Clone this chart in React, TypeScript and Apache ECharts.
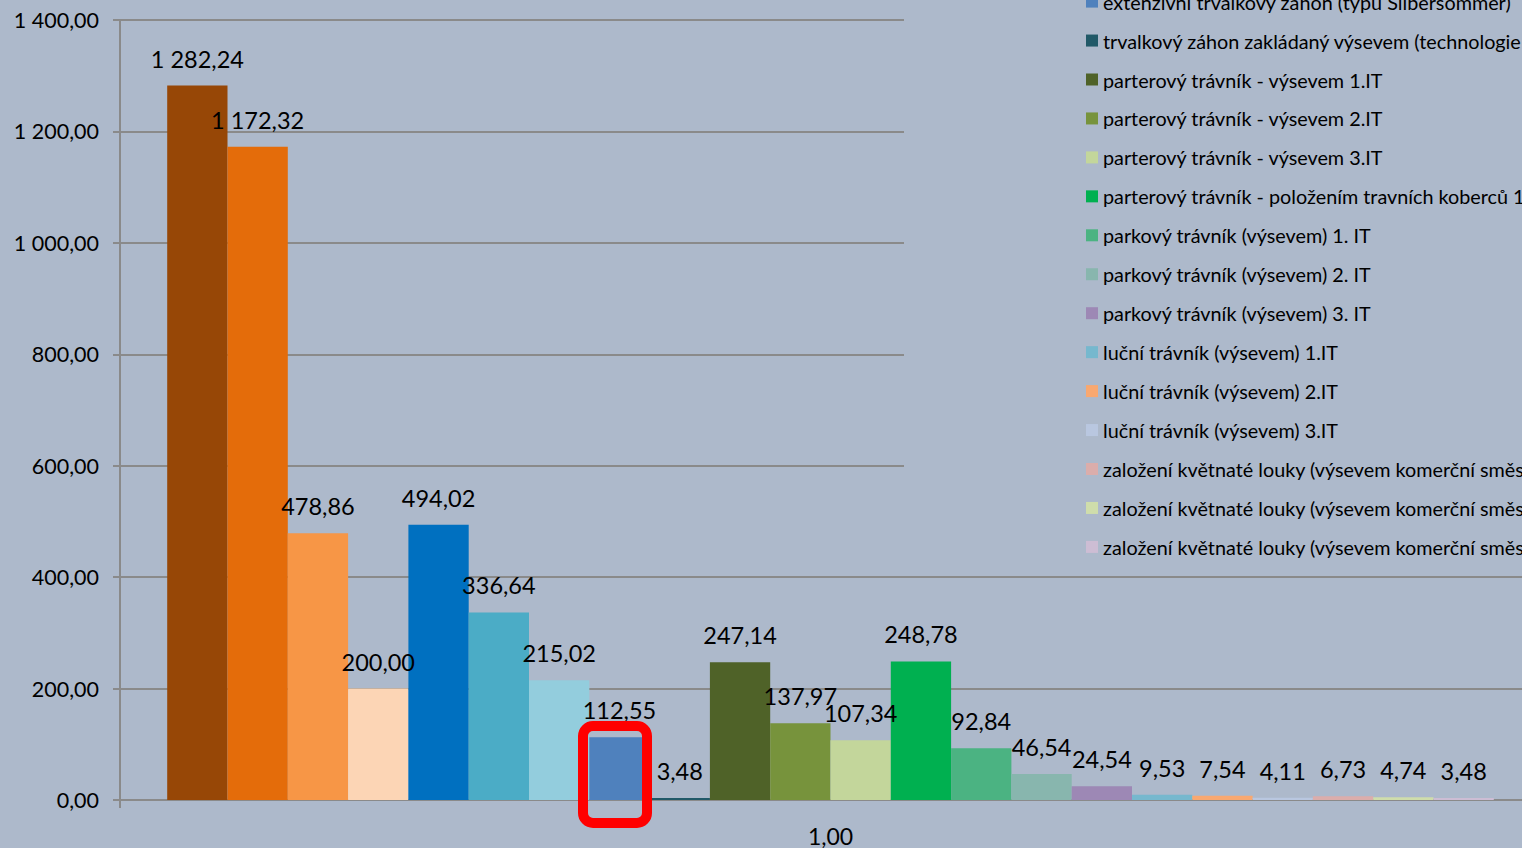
import React, { useEffect, useRef } from "react";
import * as echarts from "echarts";

const categories = ["1,00"];

const seriesNames = [
  "výsadba listnatého stromu (alejový strom)",
  "výsadba listnatého stromu (solitéra)",
  "výsadba jehličnatého stromu",
  "výsadba keřů (skupina)",
  "výsadba živého plotu",
  "trvalkový záhon (trvalky v kontejnerech)",
  "záhon letniček",
  "extenzivní trvalkový záhon (typu Silbersommer)",
  "trvalkový záhon zakládaný výsevem (technologie Pictorial Meadows)",
  "parterový trávník - výsevem 1.IT",
  "parterový trávník - výsevem 2.IT",
  "parterový trávník - výsevem 3.IT",
  "parterový trávník - položením travních koberců 1.IT",
  "parkový trávník (výsevem) 1. IT",
  "parkový trávník (výsevem) 2. IT",
  "parkový trávník (výsevem) 3. IT",
  "luční trávník (výsevem) 1.IT",
  "luční trávník (výsevem) 2.IT",
  "luční trávník (výsevem) 3.IT",
  "založení květnaté louky (výsevem komerční směsi) 1.IT",
  "založení květnaté louky (výsevem komerční směsi) 2.IT",
  "založení květnaté louky (výsevem komerční směsi) 3.IT",
];

const seriesValues = [
  1282.24, 1172.32, 478.86, 200.0, 494.02, 336.64, 215.02, 112.55, 3.48,
  247.14, 137.97, 107.34, 248.78, 92.84, 46.54, 24.54, 9.53, 7.54, 4.11,
  6.73, 4.74, 3.48,
];

const seriesColors = [
  "#974706", "#E46C0A", "#F79646", "#FCD5B5", "#0070C0", "#4BACC6",
  "#93CDDD", "#4F81BD", "#215968", "#4F6228", "#77933C", "#C3D69B",
  "#00B050", "#4BB382", "#88B6AE", "#9D88B5", "#76B8CE", "#F9A870",
  "#B9C7E0", "#DBADAB", "#CFDDAB", "#CDBDD4",
];

const yTicks = { min: 0, max: 1400, interval: 200 };

const BG = "#ADB9CB";
const FONT = "Lato";

function fmt(v: number): string {
  const s = v.toFixed(2);
  const [i, d] = s.split(".");
  return i.replace(/\B(?=(\d{3})+(?!\d))/g, " ") + "," + d;
}

export default function App() {
  const ref = useRef<HTMLDivElement>(null);
  useEffect(() => {
    document.body.style.margin = "0";
    document.body.style.overflow = "hidden";
    const chart = echarts.init(ref.current!, undefined, { renderer: "svg" });
    const rowPitch = 38.95;
    const rowH = 20;
    const legendTop = 1.6 - 7 * rowPitch - rowH / 2;
    chart.setOption({
      animation: false,
      backgroundColor: BG,
      grid: { left: 120, top: 20, width: 1421, height: 780, containLabel: false },
      xAxis: {
        type: "category",
        data: categories,
        axisLine: { lineStyle: { color: "#8A8A8A", width: 2 } },
        axisTick: { show: true, length: 8, lineStyle: { color: "#8A8A8A", width: 2 } },
        axisLabel: { fontFamily: FONT, fontSize: 23, color: "#000", margin: 24 },
      },
      yAxis: {
        type: "value",
        min: yTicks.min,
        max: yTicks.max,
        interval: yTicks.interval,
        axisLine: { show: true, lineStyle: { color: "#8A8A8A", width: 2 } },
        axisTick: { show: true, length: 7, lineStyle: { color: "#8A8A8A", width: 2 } },
        splitLine: { show: true, lineStyle: { color: "#8A8A8A", width: 2 } },
        axisLabel: {
          fontFamily: FONT,
          fontSize: 21.5,
          color: "#000",
          margin: 21,
          formatter: (v: number) => fmt(v),
        },
      },
      legend: {
        orient: "vertical",
        left: 1086,
        top: legendTop,
        padding: 0,
        itemGap: rowPitch - rowH,
        itemWidth: 12,
        itemHeight: 12,
        icon: "rect",
        selectedMode: false,
        data: seriesNames,
        textStyle: { fontFamily: FONT, fontSize: 19.8, lineHeight: rowH, color: "#000" },
      },
      graphic: [
        {
          type: "rect",
          z: 1,
          silent: true,
          shape: { x: 904, y: 0, width: 700, height: 572 },
          style: { fill: BG },
        },
        {
          type: "rect",
          z: 100,
          silent: true,
          shape: { x: 583, y: 726, width: 64, height: 97, r: 10 },
          style: { fill: "none", stroke: "#FF0000", lineWidth: 10 },
        },
      ],
      series: seriesNames.map((name, i) => ({
        type: "bar",
        name,
        data: [seriesValues[i]],
        barWidth: 60.3,
        barGap: "0%",
        itemStyle: { color: seriesColors[i] },
        label: {
          show: true,
          position: "top",
          distance: 15,
          fontFamily: FONT,
          fontSize: 23.5,
          color: "#000",
          formatter: (p: any) => fmt(p.value),
        },
      })),
    });
    return () => chart.dispose();
  }, []);
  return <div ref={ref} style={{ width: 1541, height: 848 }} />;
}
